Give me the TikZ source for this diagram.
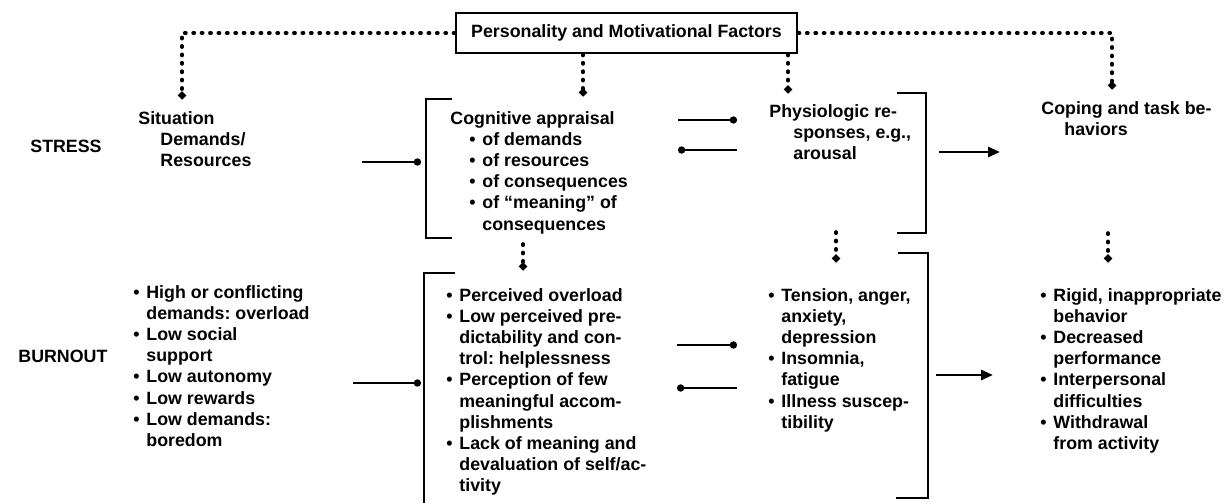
\documentclass[tikz,border=0pt]{standalone}
\usepackage{fontspec}
\setmainfont{Liberation Sans}
\usetikzlibrary{arrows.meta}
\frenchspacing

\tikzstyle{factorbox} = [draw=black, line width=1.3pt, rectangle,
    minimum width=170.5pt, minimum height=20pt, inner sep=0pt]
\tikzstyle{txt} = [inner sep=0pt, anchor=base west]
\tikzstyle{arr} = [line width=1.4pt, -{Circle[length=3.6pt]}]
\tikzstyle{arrhead} = [line width=1.4pt, -{Triangle[length=6pt,width=5pt]}]
\tikzstyle{dots} = [line width=1.8pt, line cap=round,
    dash pattern=on 0.6pt off 3.6pt, -{Circle[length=3.6pt]}]
\tikzstyle{brk} = [line width=1.3pt]

\newcommand{\bl}{\makebox[6.5pt][l]{\textbullet}}
\newcommand{\ct}{\hspace*{6.5pt}}
\newcommand{\ind}{\hspace*{11pt}}
\newcommand{\lines}[1]{\begin{tabular}[t]{@{}l@{}}#1\end{tabular}}

\begin{document}
\begin{tikzpicture}[x=0.5pt, y=-0.5pt, font=\fontsize{8.9}{10.6}\selectfont\bfseries]
    \useasboundingbox (0,0) rectangle (1224,503);

    \node[factorbox] (factors) at (626.5,33) {Personality and Motivational Factors};

    % row labels
    \node[txt] (stress) at (30,152) {STRESS};
    \node[txt] (burnout) at (18,362) {BURNOUT};

    % stress row
    \node[txt] (situ) at (138,124) {\lines{Situation\\ \ind Demands/\\ \ind Resources}};
    \node[txt] (cog) at (450,124) {\lines{Cognitive appraisal\\
        \hspace*{9.5pt}\bl of demands\\
        \hspace*{9.5pt}\bl of resources\\
        \hspace*{9.5pt}\bl of consequences\\
        \hspace*{9.5pt}\bl of ``meaning'' of\\
        \hspace*{16pt}consequences}};
    \node[txt] (physio) at (769,117) {\lines{Physiologic re-\\ \hspace*{12pt}sponses, e.g.,\\ \hspace*{12pt}arousal}};
    \node[txt] (coping) at (1041,114) {\lines{Coping and task be-\\ \hspace*{11.5pt}haviors}};

    % burnout row
    \node[txt] (demands) at (133,298) {\lines{\bl High or conflicting\\ \ct demands: overload\\
        \bl Low social\\ \ct support\\ \bl Low autonomy\\ \bl Low rewards\\
        \bl Low demands:\\ \ct boredom}};
    \node[txt] (percept) at (446,301) {\lines{\bl Perceived overload\\ \bl Low perceived pre-\\
        \ct dictability and con-\\ \ct trol: helplessness\\ \bl Perception of few\\
        \ct meaningful accom-\\ \ct plishments\\ \bl Lack of meaning and\\
        \ct devaluation of self/ac-\\ \ct tivity}};
    \node[txt] (symptoms) at (768,301) {\lines{\bl Tension, anger,\\ \ct anxiety,\\ \ct depression\\
        \bl Insomnia,\\ \ct fatigue\\ \bl Illness suscep-\\ \ct tibility}};
    \node[txt] (behave) at (1040,301) {\lines{\bl Rigid, inappropriate\\ \ct behavior\\
        \bl Decreased\\ \ct performance\\ \bl Interpersonal\\ \ct difficulties\\
        \bl Withdrawal\\ \ct from activity}};

    % brackets
    \draw[brk] (452,99) -| (426,238) -- (452,238);
    \draw[brk] (897,93) -| (926,233) -- (897,233);
    \draw[brk] (455,273) -| (424,503);
    \draw[brk] (898,253) -| (928,498) -- (896,498);

    % dotted influences
    \coordinate (situtop) at (182,99);
    \coordinate (cogtop) at (583,96);
    \coordinate (phytop) at (788,93);
    \coordinate (coptop) at (1112,89);
    \draw[dots] (factors.west) -| (situtop);
    \draw[dots] (factors.south -| cogtop) -- (cogtop);
    \draw[dots] (factors.south -| phytop) -- (phytop);
    \draw[dots] (factors.east) -| (coptop);

    \coordinate (cogmid) at (523,244);
    \coordinate (cogbot) at (523,270);
    \coordinate (phymid) at (836,232);
    \coordinate (phybot) at (836,262);
    \coordinate (copmid) at (1108,233);
    \coordinate (copbot) at (1108,262);
    \draw[dots] (cogmid) -- (cogbot);
    \draw[dots] (phymid) -- (phybot);
    \draw[dots] (copmid) -- (copbot);

    % arrows
    \coordinate (sa) at (362,162);
    \coordinate (sb) at (421,162);
    \coordinate (cp1) at (678,120);
    \coordinate (cp2) at (737,120);
    \coordinate (cp3) at (678,150);
    \coordinate (cp4) at (737,150);
    \coordinate (pc1) at (939,152);
    \coordinate (pc2) at (1000,152);
    \draw[arr] (sa) -- (sb);
    \draw[arr] (cp1) -- (cp2);
    \draw[arr] (cp4) -- (cp3);
    \draw[arrhead] (pc1) -- (pc2);

    \coordinate (ba) at (353,383);
    \coordinate (bb) at (421,383);
    \coordinate (lp1) at (677,345);
    \coordinate (lp2) at (737,345);
    \coordinate (lp3) at (677,388);
    \coordinate (lp4) at (737,388);
    \coordinate (lc1) at (936,375);
    \coordinate (lc2) at (993,375);
    \draw[arr] (ba) -- (bb);
    \draw[arr] (lp1) -- (lp2);
    \draw[arr] (lp4) -- (lp3);
    \draw[arrhead] (lc1) -- (lc2);
\end{tikzpicture}
\end{document}
